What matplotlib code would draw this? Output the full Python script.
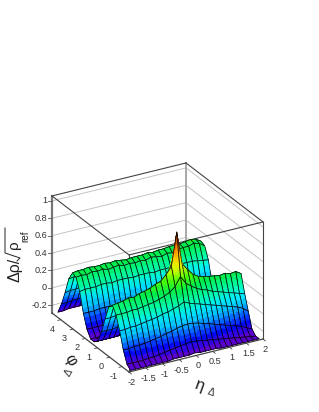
import numpy as np
import matplotlib
matplotlib.use('Agg')
import matplotlib.pyplot as plt
from matplotlib.collections import PolyCollection
from matplotlib.colors import LinearSegmentedColormap

plt.rcParams['font.family'] = ['Liberation Sans', 'DejaVu Sans']

# bin centres of the histogram
eta_nodes = [-1.92, -1.76, -1.60, -1.44, -1.28, -1.12, -0.96, -0.80, -0.64, -0.48, -0.32, -0.16, 0.0,
             0.16, 0.32, 0.48, 0.64, 0.80, 0.96, 1.12, 1.28, 1.44, 1.60, 1.76, 1.92]
phi_nodes = [-1.48, -1.19, -0.89, -0.59, -0.30, 0.0, 0.30, 0.59, 0.89, 1.19, 1.48,
             1.78, 2.08, 2.37, 2.67, 2.97, 3.26, 3.56, 3.86, 4.15, 4.45]

# one row per phi node
z_rows = [
    [-.29, -.29, -.29, -.29, -.29, -.29, -.29, -.29, -.28, -.28, -.28, -.28, -.27, -.28, -.28, -.28, -.28, -.29, -.29, -.29, -.29, -.29, -.29, -.29, -.29],
    [-.25, -.25, -.25, -.25, -.24, -.24, -.23, -.22, -.21, -.20, -.19, -.18, -.17, -.18, -.19, -.20, -.21, -.22, -.23, -.24, -.25, -.26, -.27, -.28, -.29],
    [-.12, -.12, -.11, -.11, -.10, -.09, -.08, -.07, -.05, -.04, -.02, -.01, .00, -.01, -.02, -.04, -.06, -.08, -.10, -.12, -.14, -.16, -.18, -.21, -.24],
    [.07, .07, .08, .08, .09, .10, .11, .12, .14, .15, .17, .19, .22, .19, .17, .15, .13, .11, .09, .07, .05, .03, .01, -.02, -.07],
    [.22, .22, .22, .23, .23, .24, .25, .26, .28, .30, .33, .38, .48, .39, .34, .30, .27, .25, .22, .20, .18, .16, .14, .12, .10],
    [.30, .31, .32, .34, .33, .36, .37, .39, .42, .44, .50, .58, .96, .58, .50, .43, .39, .37, .36, .35, .34, .35, .33, .34, .30],
    [.25, .25, .26, .26, .27, .27, .28, .29, .30, .32, .35, .46, .62, .46, .35, .32, .30, .29, .28, .27, .27, .26, .25, .24, .20],
    [.08, .08, .09, .09, .10, .10, .11, .11, .12, .13, .14, .17, .20, .17, .14, .13, .12, .11, .11, .10, .10, .09, .09, .08, .07],
    [-.10, -.10, -.10, -.09, -.09, -.09, -.08, -.08, -.07, -.06, -.05, -.03, -.02, -.03, -.05, -.06, -.07, -.08, -.08, -.09, -.09, -.10, -.10, -.11, -.12],
    [-.24, -.24, -.24, -.24, -.23, -.23, -.23, -.22, -.22, -.22, -.21, -.21, -.20, -.21, -.21, -.22, -.22, -.22, -.23, -.23, -.23, -.24, -.24, -.24, -.25],
    [-.28, -.28, -.28, -.28, -.28, -.28, -.28, -.27, -.27, -.27, -.27, -.27, -.27, -.27, -.27, -.27, -.27, -.27, -.28, -.28, -.28, -.28, -.28, -.28, -.28],
    [-.28, -.28, -.28, -.28, -.28, -.28, -.28, -.28, -.28, -.28, -.28, -.28, -.28, -.28, -.28, -.28, -.28, -.28, -.28, -.28, -.28, -.28, -.28, -.28, -.28],
    [-.20, -.20, -.20, -.20, -.20, -.19, -.19, -.19, -.19, -.19, -.19, -.19, -.19, -.19, -.19, -.19, -.19, -.19, -.19, -.20, -.20, -.20, -.20, -.20, -.21],
    [-.05, -.05, -.05, -.04, -.04, -.04, -.04, -.05, -.04, -.04, -.04, -.04, -.04, -.04, -.04, -.04, -.04, -.04, -.04, -.04, -.04, -.04, -.05, -.05, -.06],
    [.17, .18, .18, .18, .19, .19, .18, .19, .19, .19, .18, .19, .19, .19, .18, .19, .19, .19, .19, .20, .20, .20, .19, .18, .17],
    [.30, .31, .30, .32, .31, .32, .30, .31, .32, .30, .31, .30, .31, .30, .32, .31, .30, .32, .31, .33, .34, .34, .36, .34, .30],
    [.32, .33, .33, .34, .33, .33, .34, .33, .34, .33, .32, .33, .33, .33, .34, .33, .34, .34, .35, .35, .35, .36, .37, .36, .32],
    [.22, .23, .23, .24, .24, .24, .24, .24, .24, .24, .24, .24, .24, .24, .24, .24, .24, .25, .25, .25, .25, .26, .26, .25, .22],
    [.03, .04, .04, .05, .05, .05, .05, .05, .05, .05, .05, .05, .05, .05, .05, .05, .05, .05, .05, .06, .06, .06, .06, .05, .03],
    [-.13, -.13, -.12, -.12, -.12, -.12, -.12, -.12, -.12, -.12, -.12, -.12, -.12, -.12, -.12, -.12, -.12, -.12, -.12, -.12, -.12, -.12, -.12, -.13, -.14],
    [-.26, -.26, -.25, -.25, -.25, -.25, -.25, -.25, -.25, -.25, -.25, -.25, -.25, -.25, -.25, -.25, -.25, -.25, -.25, -.25, -.25, -.25, -.25, -.26, -.26],
]

eta_ticks = [-2, -1.5, -1, -0.5, 0, 0.5, 1, 1.5, 2]
eta_labels = ['-2', '-1.5', '-1', '-0.5', '0', '0.5', '1', '1.5', '2']
phi_ticks = [-1, 0, 1, 2, 3, 4]
z_ticks = [-0.2, 0, 0.2, 0.4, 0.6, 0.8, 1]
z_labels = ['-0.2', '0', '0.2', '0.4', '0.6', '0.8', '1']

ETA_MIN, ETA_MAX = -2.0, 2.0
PHI_MIN, PHI_MAX = -np.pi / 2, 3 * np.pi / 2
Z_MIN, Z_MAX = -0.29, 1.057
BAND = 0.05
BAND_ZMAX = 0.98


def project(eta, phi, z):
    """Parallel projection of the box onto figure pixels."""
    u = (np.asarray(eta) - ETA_MIN) / (ETA_MAX - ETA_MIN)
    v = (np.asarray(phi) - PHI_MIN) / (PHI_MAX - PHI_MIN)
    x = 129 + 134 * u - 77 * v
    y = 372 - 33 * u - 59 * v - 86.9 * (np.asarray(z) - Z_MIN)
    return x, y


def znorm(z):
    return (z - Z_MIN) / (BAND_ZMAX - Z_MIN)


palette = LinearSegmentedColormap.from_list('root_rainbow', [
    (znorm(-.29), '#6a00c0'), (znorm(-.23), '#4000e0'), (znorm(-.17), '#0000f0'),
    (znorm(-.10), '#0040ff'), (znorm(-.03), '#0090ff'), (znorm(.03), '#00c8ff'),
    (znorm(.10), '#00f0ff'), (znorm(.20), '#00ffb0'), (znorm(.33), '#00f050'),
    (znorm(.45), '#50ff00'), (znorm(.55), '#c8ff00'), (znorm(.65), '#ffe600'),
    (znorm(.80), '#ff8200'), (znorm(.92), '#a03200'), (znorm(.98), '#461400')])


def band_colour(z):
    level = np.floor((z - Z_MIN) / BAND) * BAND + BAND / 2 + Z_MIN
    return palette(np.clip(znorm(level), 0, 1))


fig = plt.figure(figsize=(3.19, 4.12), dpi=100)
ax = fig.add_axes([0, 0, 1, 1])
ax.set_xlim(0, 319)
ax.set_ylim(412, 0)
ax.axis('off')

# back walls
gx = '#c4c4c4'
for z in z_ticks:
    xs, ys = project([ETA_MIN, ETA_MAX, ETA_MAX], [PHI_MAX, PHI_MAX, PHI_MIN], [z, z, z])
    ax.plot(xs, ys, color=gx, lw=0.7, zorder=1)

xb, yb = project([ETA_MAX, ETA_MAX], [PHI_MAX, PHI_MAX], [Z_MIN, Z_MAX])
ax.plot(xb, yb, color='#a8a8a8', lw=1.4, zorder=1)
xl, yl = project([ETA_MIN, ETA_MIN], [PHI_MAX, PHI_MAX], [Z_MIN, Z_MAX])
ax.plot(xl, yl, color='#777777', lw=1.6, zorder=1)

dark = '#444444'
for etas, phis in [([ETA_MIN, ETA_MAX], [PHI_MAX, PHI_MAX]), ([ETA_MAX, ETA_MAX], [PHI_MAX, PHI_MIN]),
                   ([ETA_MIN, ETA_MIN], [PHI_MAX, PHI_MIN]), ([ETA_MIN, ETA_MAX], [PHI_MIN, PHI_MIN])]:
    xt, yt = project(etas, phis, [Z_MAX, Z_MAX])
    ax.plot(xt, yt, color=dark, lw=0.8, zorder=1)
for e_edge in (ETA_MIN, ETA_MAX):
    xf, yf = project([e_edge, e_edge], [PHI_MIN, PHI_MIN], [Z_MIN, Z_MAX])
    ax.plot(xf, yf, color=dark, lw=0.8, zorder=1)

# surface, back to front
eta = np.array(eta_nodes)
phi = np.array(phi_nodes)
zz = np.array(z_rows)
sub = np.linspace(0, 1, 9)
su, sv = np.meshgrid(sub, sub)
polys, faces, edges, widths = [], [], [], []
for j in range(len(phi) - 2, -1, -1):
    for i in range(len(eta) - 2, -1, -1):
        e = eta[i] + su * (eta[i + 1] - eta[i])
        p = phi[j] + sv * (phi[j + 1] - phi[j])
        c = ((1 - su) * (1 - sv) * zz[j, i] + su * (1 - sv) * zz[j, i + 1]
             + (1 - su) * sv * zz[j + 1, i] + su * sv * zz[j + 1, i + 1])
        x, y = project(e, p, c)
        for a in range(len(sub) - 1):
            for b in range(len(sub) - 1):
                polys.append([(x[a, b], y[a, b]), (x[a, b + 1], y[a, b + 1]),
                              (x[a + 1, b + 1], y[a + 1, b + 1]), (x[a + 1, b], y[a + 1, b])])
                col = band_colour((c[a, b] + c[a + 1, b + 1]) / 2)
                faces.append(col)
                edges.append(col)
                widths.append(0.3)
        x, y = project([eta[i], eta[i + 1], eta[i + 1], eta[i]], [phi[j], phi[j], phi[j + 1], phi[j + 1]],
                       [zz[j, i], zz[j, i + 1], zz[j + 1, i + 1], zz[j + 1, i]])
        polys.append(list(zip(x, y)))
        faces.append((0, 0, 0, 0))
        edges.append((0, 0, 0, 1))
        widths.append(0.5)
ax.add_collection(PolyCollection(polys, facecolors=faces, edgecolors=edges, linewidths=widths, zorder=3))

# axes in front
xa, ya = project([ETA_MAX, ETA_MIN], [PHI_MIN, PHI_MIN], [Z_MIN, Z_MIN])
ax.plot(xa, ya, color=dark, lw=0.9, zorder=4)
xa, ya = project([ETA_MIN, ETA_MIN], [PHI_MIN, PHI_MAX], [Z_MIN, Z_MIN])
ax.plot(xa, ya, color=dark, lw=0.9, zorder=4)

tc = '#333333'
for val, lab in zip(eta_ticks, eta_labels):
    tx, ty = project(val, PHI_MIN, Z_MIN)
    ax.plot([tx, tx + 2.4], [ty, ty + 1.9], color=dark, lw=0.6, zorder=4)
    ax.text(tx + 2.5, ty + 10.5, lab, fontsize=6.6, color=tc, ha='center', va='center')
for val in phi_ticks:
    tx, ty = project(ETA_MIN, val, Z_MIN)
    ax.plot([tx, tx - 2.9], [ty, ty + 0.7], color=dark, lw=0.6, zorder=4)
    ax.text(tx - 8.5, ty + 9.5, str(val), fontsize=6.6, color=tc, ha='center', va='center')
for val, lab in zip(z_ticks, z_labels):
    tx, ty = project(ETA_MIN, PHI_MAX, val)
    ax.plot([tx - 4, tx], [ty, ty], color='#555555', lw=0.6, zorder=4)
    ax.text(tx - 5, ty, lab, fontsize=6.6, color=tc, ha='right', va='center')

# axis titles, the radical is pieced together as in the original
tk = '#222222'
ax.text(15, 270, 'Δρ/', fontsize=11.5, rotation=90, ha='center', va='center', color=tk)
ax.text(14, 245, 'ρ', fontsize=11, rotation=90, ha='center', va='center', color=tk)
ax.text(25.5, 236, 'ref', fontsize=7.2, rotation=90, ha='center', va='center', color=tk)
ax.plot([5, 5, 20, 17], [228, 253, 258, 261], color=tk, lw=0.7, zorder=4)
ax.text(70, 360, 'φ', fontsize=12, rotation=-60, ha='center', va='center', color=tk)
ax.text(69, 373, 'Δ', fontsize=7.5, rotation=60, ha='center', va='center', color=tc)
ax.text(199, 386, 'η', fontsize=12, rotation=-20, ha='center', va='center', color=tk)
ax.text(211, 392, 'Δ', fontsize=7.5, rotation=-20, ha='center', va='center', color=tc)

fig.savefig('out.png', dpi=100)
